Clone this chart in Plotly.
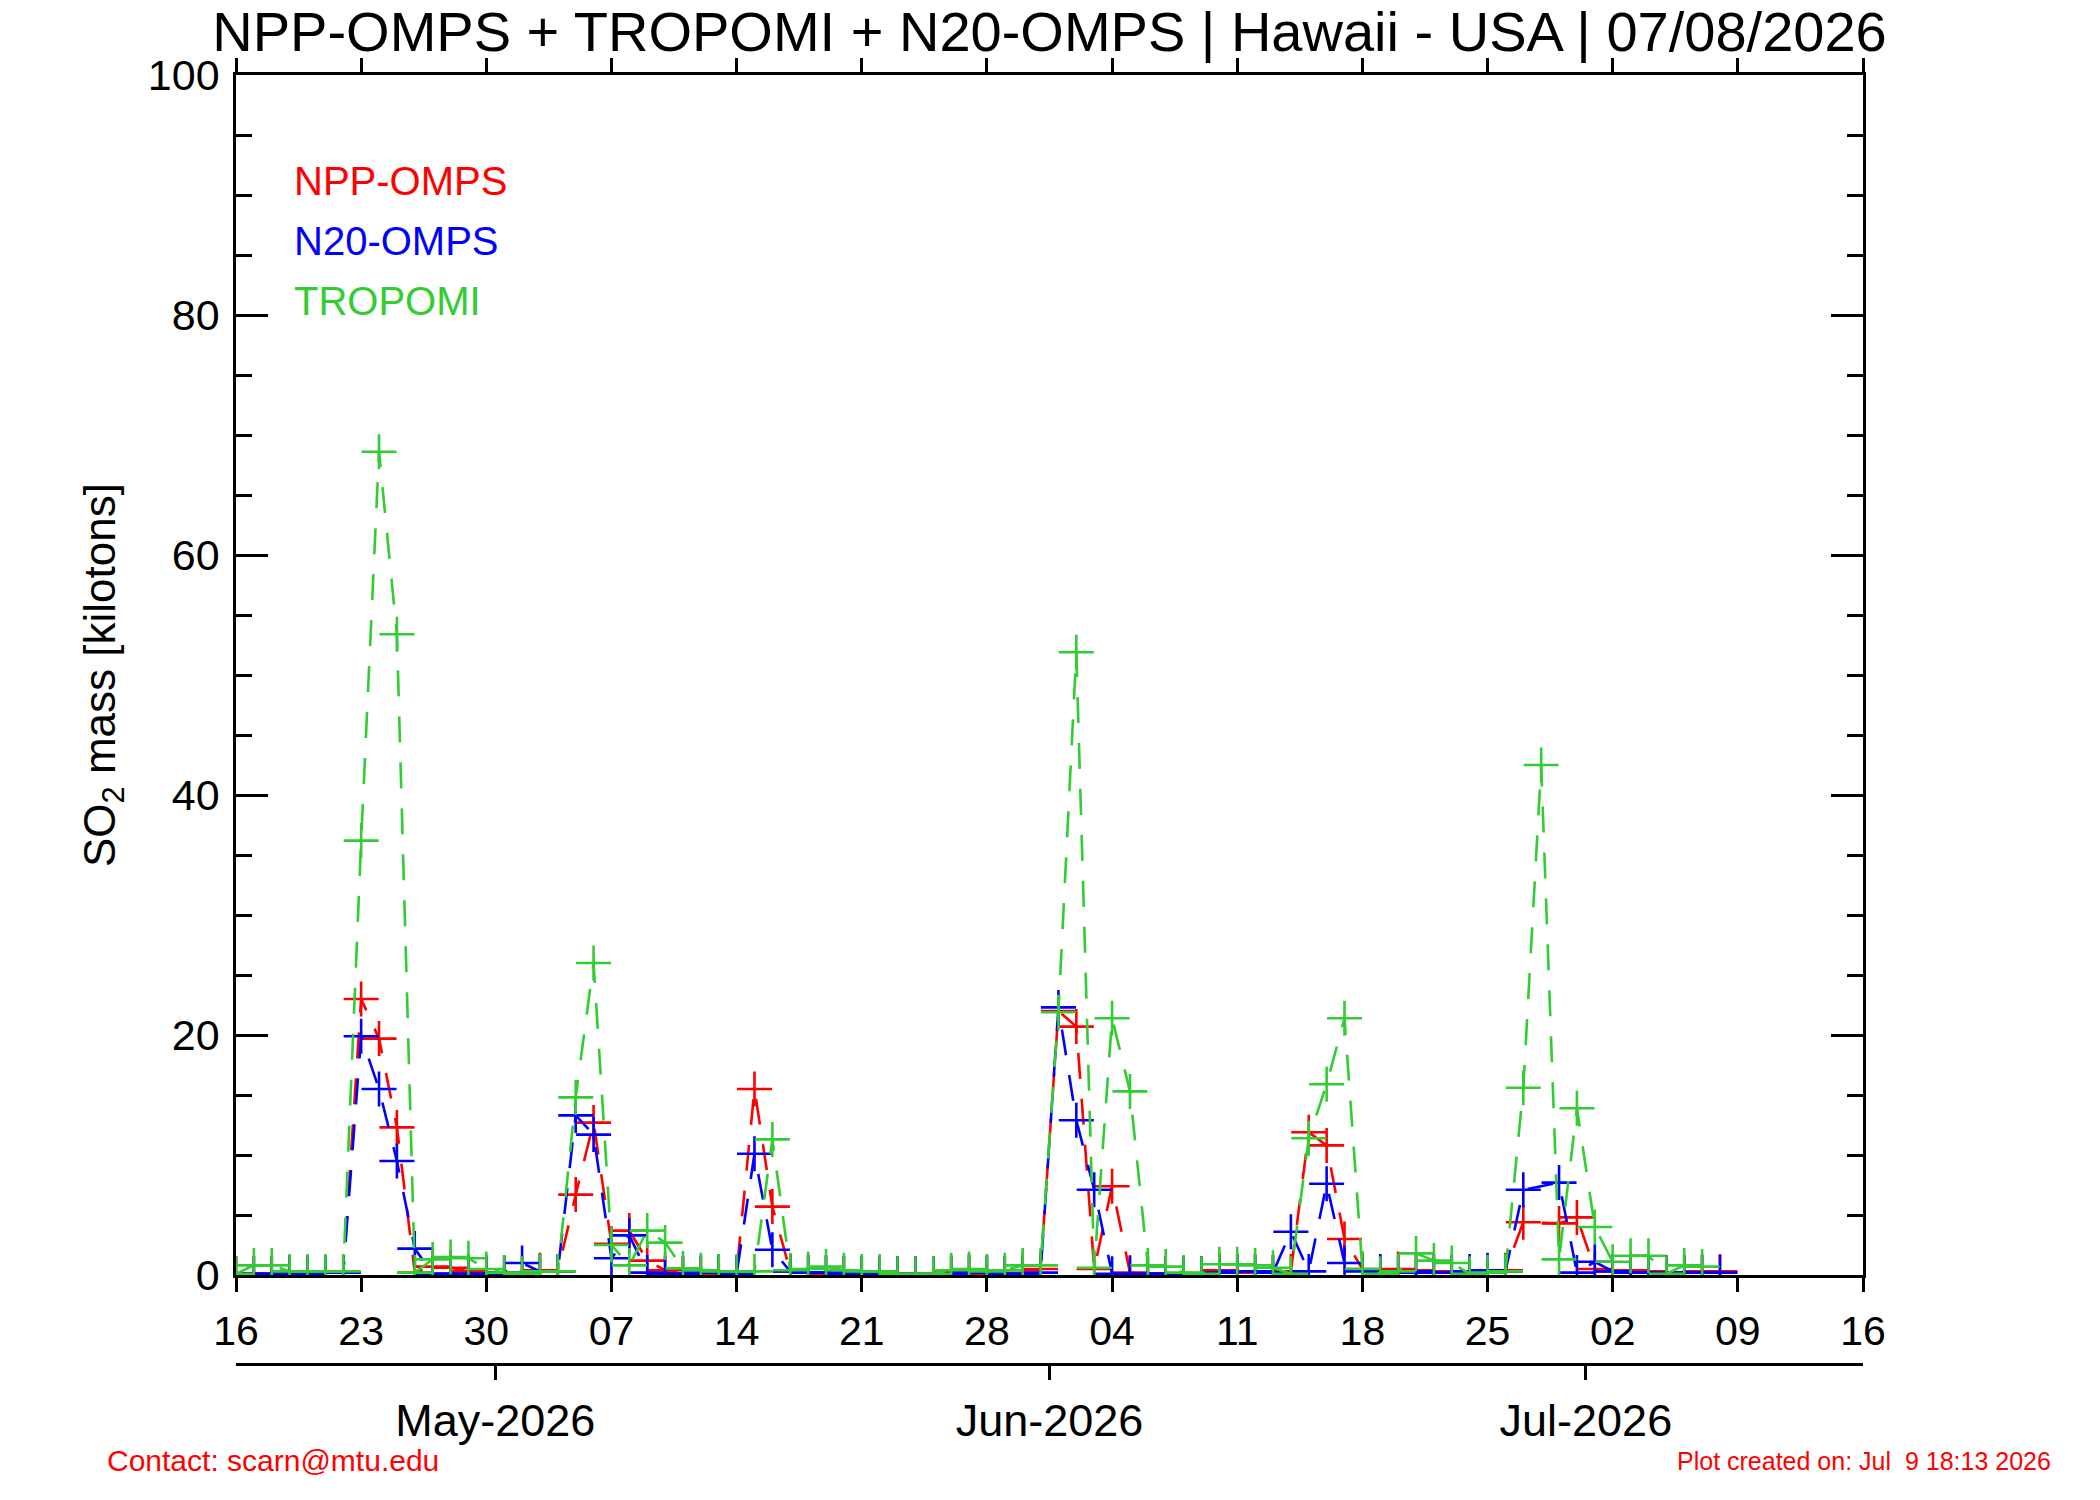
"""
SO2 mass time series over Hawaii: NPP-OMPS, N20-OMPS and TROPOMI
Rebuilt with plotly, daily values read off the original IDL plot
"""

import pandas as pd
import plotly.graph_objects as go

# ---- data ---------------------------------------------------------------
start_date = "2026-04-16"
n_days = 84
dates = pd.date_range(start_date, periods=n_days, freq="D")

# kilotons, one value per day (None = no retrieval that day)
npp_omps = [
    0.1, 0.1, 0.1, 0.2, 0.2, 0.2, 0.2, 23.0, 19.7, 12.3,
    0.2, 0.7, 0.6, 0.3, 0.2, 0.1, 0.1, 0.4, 0.3, 6.7,
    12.7, 2.6, 3.7, 1.2, 0.4, 0.1, 0.1, 0.2, 0.2, 15.5,
    5.7, 0.3, 0.2, 0.1, 0.1, 0.1, 0.1, 0.1, 0.1, 0.1,
    0.2, 0.3, 0.1, 0.1, 0.4, 0.5, 22.0, 20.7, 0.5, 7.4,
    0.2, 0.1, 0.1, 0.1, 0.1, 0.4, 0.3, 0.2, 0.2, 0.3,
    11.9, 10.8, 3.0, 0.5, 0.2, 0.5, 0.4, 0.3, 0.2, 0.1,
    0.2, 0.4, 4.4, None, 4.3, 4.8, 0.5, 0.3, 0.4, 0.3,
    0.2, 0.2, 0.3, 0.3,
]
n20_omps = [
    0.1, 0.1, 0.1, 0.1, 0.1, 0.2, 0.2, 19.9, 15.5, 9.5,
    2.2, 0.1, 0.1, 0.1, 0.1, 0.2, 1.0, 0.3, 0.3, 13.3,
    11.7, 1.4, 3.3, 0.2, 0.1, 0.1, 0.2, 0.3, 0.1, 10.1,
    2.1, 0.3, 0.2, 0.2, 0.1, 0.1, 0.1, 0.1, 0.1, 0.1,
    0.1, 0.2, 0.2, 0.1, 0.1, 0.2, 22.3, 12.9, 7.1, 0.1,
    0.1, 0.1, 0.1, 0.1, 0.1, 0.2, 0.3, 0.3, 0.2, 3.6,
    0.3, 7.6, 1.0, 0.3, 0.3, 0.2, 0.3, 0.2, 0.2, 0.3,
    0.4, 0.3, 7.1, None, 7.7, 0.2, 1.1, 0.3, 0.2, 0.2,
    0.1, 0.2, 0.2, 0.2,
]
tropomi = [
    0.1, 0.8, 0.8, 0.3, 0.3, 0.3, 0.3, 36.2, 68.6, 53.4,
    0.2, 1.3, 1.5, 1.4, 0.5, 0.2, 0.1, 0.3, 0.3, 14.8,
    26.0, 2.5, 0.8, 3.7, 2.7, 0.55, 0.4, 0.3, 0.3, 0.3,
    11.3, 0.4, 0.5, 0.7, 0.4, 0.3, 0.3, 0.1, 0.1, 0.1,
    0.4, 0.5, 0.3, 0.4, 0.8, 0.8, 21.9, 51.9, 0.6, 21.4,
    15.3, 0.8, 0.7, 0.2, 0.1, 0.9, 0.9, 0.8, 0.6, 0.1,
    11.4, 15.9, 21.4, 0.5, 0.1, 0.3, 1.8, 1.2, 1.0, 0.1,
    0.2, 0.3, 15.6, 42.5, 1.3, 13.9, 4.0, 1.1, 1.6, 1.6,
    0.1, 0.8, 0.7, None,
]

series_names = ["NPP-OMPS", "N20-OMPS", "TROPOMI"]
series_values = [npp_omps, n20_omps, tropomi]
series_colors = ["#ff0000", "#0000ff", "#32cd32"]

x_range = ["2026-04-16", "2026-07-16"]
y_ticks = [0, 20, 40, 60, 80, 100]
month_ticks = ["2026-04-30 12:00", "2026-05-31 12:00", "2026-06-30 12:00"]
month_labels = ["May-2026", "Jun-2026", "Jul-2026"]

title_text = "NPP-OMPS + TROPOMI + N20-OMPS | Hawaii - USA | 07/08/2026"
contact_text = "Contact: scarn@mtu.edu"
created_text = "Plot created on: Jul\u00a0 9 18:13 2026"

# ---- page geometry (pixels) --------------------------------------------
W, H = 2100, 1500
LEFT, RIGHT = 236, 1863
TOP, AXIS_BOTTOM, MONTH_AXIS = 75, 1275, 1364
FONT = "Liberation Sans, Arial, Helvetica, sans-serif"
LW = 2.6


def px_x(x):
    return (x - LEFT) / (RIGHT - LEFT)


def px_y(y):
    return (MONTH_AXIS - y) / (MONTH_AXIS - TOP)


fig = go.Figure()

for name, vals, color in zip(series_names, series_values, series_colors):
    fig.add_trace(go.Scatter(
        x=dates, y=vals, name=name, mode="lines+markers",
        connectgaps=True, cliponaxis=True,
        line=dict(color=color, width=LW, dash="26px,20px"),
        marker=dict(symbol="cross-thin", size=25,
                    line=dict(color=color, width=LW)),
        showlegend=False,
    ))

# month axis underneath, needs a trace to exist
fig.add_trace(go.Scatter(x=x_range, y=[None, None], xaxis="x2",
                         showlegend=False, hoverinfo="skip"))

axis_common = dict(showline=True, linecolor="black", linewidth=LW,
                   showgrid=False, zeroline=False, automargin=False,
                   tickcolor="black", tickwidth=LW)

fig.update_layout(
    width=W, height=H,
    margin=dict(l=LEFT, r=W - RIGHT, t=TOP, b=H - MONTH_AXIS, pad=0),
    paper_bgcolor="white", plot_bgcolor="white",
    font=dict(family=FONT, color="black"),
    title=dict(text=title_text, x=0.5, xref="paper", xanchor="center",
               y=1 - 31 / H, yref="container", yanchor="middle",
               font=dict(family=FONT, size=56, color="black")),
    xaxis=dict(type="date", range=x_range, tick0=start_date,
               dtick=7 * 86400000, tickformat="%d", ticks="outside",
               ticklen=14, mirror="ticks", anchor="y",
               ticklabelstandoff=4,
               tickfont=dict(family=FONT, size=41, color="black"),
               **axis_common),
    xaxis2=dict(type="date", range=x_range, overlaying="x", anchor="free",
                position=0, side="bottom", tickmode="array",
                tickvals=month_ticks, ticktext=month_labels,
                ticks="outside", ticklen=14, ticklabelstandoff=2,
                tickfont=dict(family=FONT, size=45, color="black"),
                **axis_common),
    yaxis=dict(range=[0, 100], tickvals=y_ticks, ticks="inside",
               ticklen=32, mirror="ticks", ticklabelstandoff=5,
               domain=[px_y(AXIS_BOTTOM), 1],
               tickfont=dict(family=FONT, size=43, color="black"),
               minor=dict(dtick=5, ticks="inside", ticklen=16,
                          tickcolor="black", tickwidth=LW),
               **axis_common),
)

# labels written straight on the page, as in the original
for i, (name, color) in enumerate(zip(series_names, series_colors)):
    fig.add_annotation(x=px_x(292), y=px_y(181 + 60 * i), xref="paper",
                       yref="paper", text=name, showarrow=False,
                       xanchor="left", yanchor="middle",
                       font=dict(family=FONT, size=40, color=color))

fig.add_annotation(x=px_x(103), y=px_y(675), xref="paper", yref="paper",
                   text="SO<sub>2</sub> mass [kilotons]", textangle=-90,
                   showarrow=False, xanchor="center", yanchor="middle",
                   font=dict(family=FONT, size=44, color="black"))
fig.add_annotation(x=px_x(105), y=px_y(1460), xref="paper", yref="paper",
                   text=contact_text, showarrow=False, xanchor="left",
                   yanchor="middle", font=dict(family=FONT, size=30,
                                               color="#ff0000"))
fig.add_annotation(x=px_x(2053), y=px_y(1461), xref="paper", yref="paper",
                   text=created_text, showarrow=False, xanchor="right",
                   yanchor="middle", font=dict(family=FONT, size=25,
                                               color="#ff0000"))

# the page's default body margin would shift the whole figure by 8px
fig.write_html("out.html", config={"displayModeBar": False},
               post_script="document.body.style.margin='0';")
